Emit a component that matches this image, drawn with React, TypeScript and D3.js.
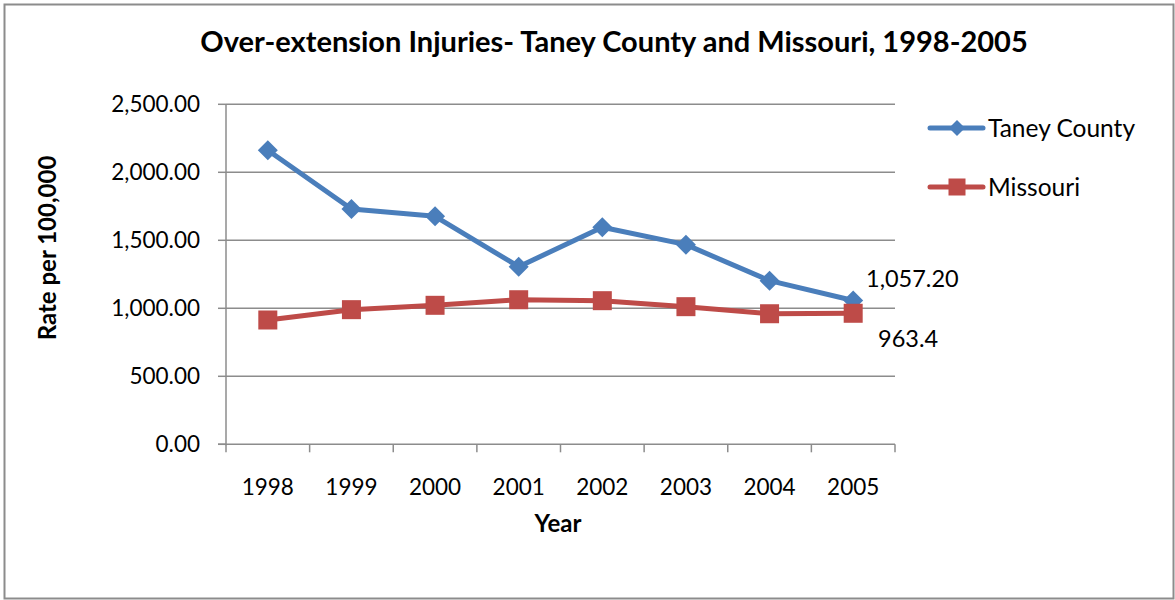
import React from "react";
import * as d3 from "d3";

const years = ["1998", "1999", "2000", "2001", "2002", "2003", "2004", "2005"];
const taneyCounty = [2162, 1730, 1676, 1306, 1596, 1468, 1203, 1057.2];
const missouri = [914, 990, 1022, 1063, 1056, 1012, 960, 963.4];
const yTicks = [0, 500, 1000, 1500, 2000, 2500];
const seriesNames = ["Taney County", "Missouri"];
const lastLabels = ["1,057.20", "963.4"];

const W = 1175;
const H = 600;
const plot = { left: 226, right: 895, top: 104.3, bottom: 444.3 };
const FONT = "Lato, 'Open Sans', sans-serif";
const BLUE = "#4a7ebb";
const RED = "#be4b48";

export default function App() {
  const x = d3
    .scaleBand<string>()
    .domain(years)
    .range([plot.left, plot.right])
    .paddingInner(0)
    .paddingOuter(0);
  const y = d3.scaleLinear().domain([0, 2500]).range([plot.bottom, plot.top]);
  const cx = (yr: string) => (x(yr) as number) + x.bandwidth() / 2;
  const line = d3
    .line<number>()
    .x((_, i) => cx(years[i]))
    .y((v) => y(v));
  const fmt = d3.format(",.2f");
  const boundaries = years.map((yr) => x(yr) as number).concat([plot.right]);

  const diamond = (px: number, py: number, r: number) =>
    `M${px},${py - r}L${px + r},${py}L${px},${py + r}L${px - r},${py}Z`;

  return (
    <svg
      width={W}
      height={H}
      style={{ position: "absolute", left: 0, top: 0, background: "#fff" }}
    >
      <rect x={0} y={0} width={W} height={H} fill="#fff" />
      <rect x={4.5} y={4.5} width={W - 6} height={H - 6} fill="none" stroke="#8c8c8c" strokeWidth={2} />
      <text
        x={614}
        y={52}
        textAnchor="middle"
        fontFamily={FONT}
        fontWeight="bold"
        fontSize={29}
        fill="#000"
      >
        Over-extension Injuries- Taney County and Missouri, 1998-2005
      </text>

      {/* gridlines */}
      {yTicks.map((t) => (
        <g key={t}>
          {t > 0 && (
            <line x1={plot.left} x2={plot.right} y1={y(t)} y2={y(t)} stroke="#8c8c8c" strokeWidth={1.5} />
          )}
          <line x1={plot.left - 8} x2={plot.left} y1={y(t)} y2={y(t)} stroke="#8c8c8c" strokeWidth={1.5} />
          <text
            x={200}
            y={y(t) + 8}
            textAnchor="end"
            fontFamily={FONT}
            fontSize={22.5}
            fill="#000"
          >
            {fmt(t)}
          </text>
        </g>
      ))}

      {/* axes */}
      <line x1={plot.left} x2={plot.left} y1={plot.top} y2={plot.bottom + 1} stroke="#8c8c8c" strokeWidth={1.5} />
      <line x1={plot.left - 8} x2={plot.right} y1={plot.bottom} y2={plot.bottom} stroke="#8c8c8c" strokeWidth={1.5} />
      {boundaries.map((bx, i) => (
        <line key={i} x1={bx} x2={bx} y1={plot.bottom} y2={plot.bottom + 8} stroke="#8c8c8c" strokeWidth={1.5} />
      ))}
      {years.map((yr) => (
        <text
          key={yr}
          x={cx(yr)}
          y={495}
          textAnchor="middle"
          fontFamily={FONT}
          fontSize={22.5}
          fill="#000"
        >
          {yr}
        </text>
      ))}
      <text x={558} y={532} textAnchor="middle" fontFamily={FONT} fontWeight="bold" fontSize={24} fill="#000">
        Year
      </text>
      <text
        transform={`translate(56,248) rotate(-90)`}
        textAnchor="middle"
        fontFamily={FONT}
        fontWeight="bold"
        fontSize={24}
        fill="#000"
      >
        Rate per 100,000
      </text>

      {/* series */}
      <path d={line(taneyCounty) || ""} fill="none" stroke={BLUE} strokeWidth={5} strokeLinejoin="round" />
      <path d={line(missouri) || ""} fill="none" stroke={RED} strokeWidth={5} strokeLinejoin="round" />
      {taneyCounty.map((v, i) => (
        <path key={"t" + i} d={diamond(cx(years[i]), y(v), 10)} fill={BLUE} />
      ))}
      {missouri.map((v, i) => (
        <rect key={"m" + i} x={cx(years[i]) - 9.5} y={y(v) - 9.5} width={19} height={19} fill={RED} />
      ))}

      {/* last-point labels */}
      <text x={866} y={287} fontFamily={FONT} fontSize={23.5} fill="#000">
        {lastLabels[0]}
      </text>
      <text x={878} y={347} fontFamily={FONT} fontSize={23.5} fill="#000">
        {lastLabels[1]}
      </text>

      {/* legend */}
      {seriesNames.map((name, i) => {
        const ly = i === 0 ? 128 : 187;
        const color = i === 0 ? BLUE : RED;
        return (
          <g key={name}>
            <line x1={930} x2={983} y1={ly} y2={ly} stroke={color} strokeWidth={5} strokeLinecap="round" />
            {i === 0 ? (
              <path d={diamond(957, ly, 8)} fill={color} />
            ) : (
              <rect x={948.5} y={ly - 8.5} width={17} height={17} fill={color} />
            )}
            <text x={988} y={ly + 8.5} fontFamily={FONT} fontSize={24.5} fill="#000">
              {name}
            </text>
          </g>
        );
      })}
    </svg>
  );
}
